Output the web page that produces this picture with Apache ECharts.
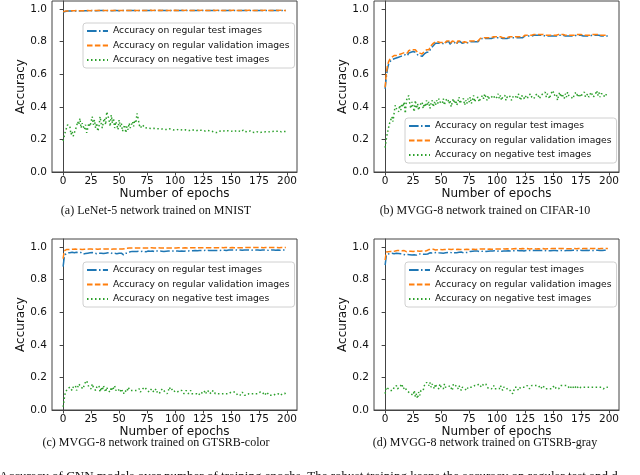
<!DOCTYPE html>
<html>
<head>
<meta charset="utf-8">
<script src="https://cdn.jsdelivr.net/npm/echarts@6/dist/echarts.min.js"></script>
<style>
html, body { margin: 0; padding: 0; background: #fff; }
#chart { width: 640px; height: 475px; }
</style>
</head>
<body>
<div id="chart"></div>
<script>
// tick labels
var xTicks = [0, 25, 50, 75, 100, 125, 150, 175, 200];
var yTicks = [0, 0.2, 0.4, 0.6, 0.8, 1.0];
var seriesNames = ['Accuracy on regular test images', 'Accuracy on regular validation images', 'Accuracy on negative test images'];
var captions = ['(a) LeNet-5 network trained on MNIST', '(b) MVGG-8 network trained on CIFAR-10',
    '(c) MVGG-8 network trained on GTSRB-color', '(d) MVGG-8 network trained on GTSRB-gray'];

// (a) LeNet-5 / MNIST
var aTest = [
0.980,0.984,0.986,0.987,0.988, 0.987,0.989,0.988,0.989,0.988, 0.989,0.990,0.989,0.990,0.989, 0.990,0.990,0.989,0.990,0.991, 0.990,0.989,0.990,0.991,0.990,
0.990,0.991,0.990,0.990,0.991, 0.990,0.991,0.991,0.990,0.991, 0.990,0.991,0.991,0.990,0.991, 0.991,0.990,0.991,0.991,0.990, 0.991,0.991,0.990,0.991,0.991,
0.990,0.991,0.991,0.990,0.991, 0.991,0.991,0.990,0.991,0.991, 0.991,0.990,0.991,0.991,0.991, 0.991,0.990,0.991,0.991,0.991, 0.992,0.991,0.991,0.991,0.991,
0.991,0.992,0.991,0.991,0.991, 0.992,0.991,0.991,0.992,0.991, 0.991,0.991,0.992,0.991,0.991, 0.992,0.991,0.991,0.991,0.992, 0.991,0.991,0.992,0.991,0.991,
0.991,0.992,0.991,0.991,0.992, 0.991,0.991,0.992,0.991,0.991, 0.991,0.992,0.991,0.991,0.992, 0.991,0.991,0.992,0.991,0.991, 0.991,0.992,0.991,0.991,0.992,
0.991,0.991,0.992,0.991,0.991, 0.991,0.992,0.991,0.991,0.992, 0.991,0.991,0.991,0.992,0.991, 0.991,0.992,0.991,0.991,0.991, 0.992,0.991,0.991,0.992,0.991,
0.991,0.991,0.992,0.991,0.991, 0.992,0.991,0.991,0.991,0.992, 0.991,0.991,0.992,0.991,0.991, 0.991,0.992,0.991,0.991,0.992, 0.991,0.991,0.991,0.992,0.991,
0.991,0.992,0.991,0.991,0.991, 0.992,0.991,0.991,0.992,0.991, 0.991,0.991,0.992,0.991,0.991, 0.992,0.991,0.991,0.991,0.992, 0.991,0.991,0.992,0.991,0.991
];
var aVal = [
0.984,0.987,0.988,0.989,0.989, 0.990,0.989,0.990,0.990,0.989, 0.990,0.990,0.991,0.990,0.990, 0.991,0.990,0.991,0.990,0.991, 0.991,0.990,0.991,0.991,0.990,
0.991,0.991,0.992,0.991,0.991, 0.991,0.992,0.991,0.991,0.992, 0.991,0.991,0.992,0.991,0.992, 0.991,0.991,0.992,0.992,0.991, 0.992,0.991,0.992,0.991,0.992,
0.992,0.991,0.992,0.992,0.991, 0.992,0.992,0.991,0.992,0.992, 0.992,0.991,0.992,0.992,0.992, 0.991,0.992,0.992,0.992,0.992, 0.992,0.992,0.991,0.992,0.992,
0.992,0.992,0.992,0.993,0.992, 0.992,0.992,0.993,0.992,0.992, 0.992,0.993,0.992,0.992,0.992, 0.993,0.992,0.992,0.993,0.992, 0.992,0.992,0.993,0.992,0.992,
0.993,0.992,0.992,0.993,0.992, 0.992,0.993,0.992,0.992,0.992, 0.993,0.992,0.992,0.993,0.992, 0.992,0.992,0.993,0.992,0.992, 0.993,0.992,0.992,0.992,0.993,
0.992,0.992,0.993,0.992,0.992, 0.992,0.993,0.992,0.992,0.993, 0.992,0.992,0.992,0.993,0.992, 0.992,0.993,0.992,0.992,0.992, 0.993,0.992,0.992,0.993,0.992,
0.992,0.992,0.993,0.992,0.992, 0.993,0.992,0.992,0.992,0.993, 0.992,0.992,0.993,0.992,0.992, 0.992,0.993,0.992,0.992,0.993, 0.992,0.992,0.992,0.993,0.992,
0.992,0.993,0.992,0.992,0.992, 0.993,0.992,0.992,0.993,0.992, 0.992,0.992,0.993,0.992,0.992, 0.993,0.992,0.992,0.992,0.993, 0.992,0.992,0.993,0.992,0.992
];
var aNeg = [
0.19,0.22,0.25,0.27,0.29, 0.29,0.28,0.23,0.25,0.22, 0.24,0.26,0.28,0.31,0.29, 0.33,0.27,0.30,0.28,0.26, 0.29,0.24,0.27,0.30,0.28,
0.31,0.34,0.29,0.32,0.27, 0.30,0.25,0.28,0.34,0.30, 0.27,0.31,0.33,0.29,0.37, 0.38,0.32,0.28,0.35,0.30, 0.33,0.27,0.31,0.29,0.26,
0.32,0.28,0.30,0.25,0.27, 0.29,0.24,0.28,0.26,0.30, 0.27,0.29,0.31,0.28,0.32, 0.30,0.36,0.33,0.29,0.27, 0.28,0.29,0.28,0.27,0.275,
0.272,0.270,0.268,0.270,0.267, 0.266,0.268,0.265,0.266,0.264, 0.266,0.263,0.265,0.262,0.264, 0.266,0.261,0.263,0.260,0.262, 0.265,0.259,0.262,0.260,0.258,
0.261,0.257,0.260,0.262,0.256, 0.259,0.261,0.257,0.255,0.259, 0.262,0.256,0.258,0.255,0.257, 0.260,0.254,0.256,0.258,0.253, 0.256,0.258,0.254,0.256,0.253,
0.255,0.257,0.252,0.254,0.256, 0.251,0.253,0.255,0.250,0.246, 0.244,0.248,0.242,0.246,0.250, 0.256,0.252,0.254,0.250,0.253, 0.256,0.251,0.253,0.249,0.252,
0.254,0.250,0.252,0.248,0.251, 0.255,0.249,0.252,0.250,0.247, 0.253,0.258,0.250,0.248,0.251, 0.246,0.249,0.252,0.247,0.244, 0.249,0.243,0.246,0.248,0.245,
0.242,0.247,0.244,0.248,0.245, 0.243,0.247,0.244,0.246,0.252, 0.248,0.245,0.249,0.246,0.251, 0.255,0.250,0.247,0.252,0.249, 0.246,0.251,0.248,0.250,0.249
];

// (b) MVGG-8 / CIFAR-10
var bTest = [
0.51,0.58,0.63,0.66,0.675, 0.685,0.69,0.70,0.695,0.705, 0.70,0.71,0.705,0.715,0.71, 0.72,0.715,0.705,0.72,0.725, 0.715,0.73,0.72,0.735,0.725,
0.74,0.73,0.735,0.725,0.72, 0.71,0.715,0.705,0.71,0.72, 0.725,0.73,0.735,0.74,0.735, 0.745,0.76,0.77,0.775,0.785, 0.79,0.785,0.79,0.795,0.79,
0.795,0.79,0.795,0.785,0.795, 0.80,0.79,0.80,0.785,0.795, 0.80,0.79,0.795,0.80,0.785, 0.80,0.795,0.80,0.805,0.79, 0.80,0.795,0.80,0.79,0.795,
0.80,0.795,0.80,0.79,0.80, 0.795,0.80,0.805,0.80,0.81, 0.815,0.82,0.82,0.825,0.82, 0.825,0.82,0.825,0.82,0.825, 0.82,0.815,0.825,0.82,0.825,
0.82,0.825,0.82,0.825,0.815, 0.82,0.825,0.82,0.825,0.82, 0.815,0.825,0.82,0.825,0.82, 0.825,0.82,0.825,0.82,0.825, 0.82,0.825,0.83,0.825,0.83,
0.835,0.84,0.835,0.84,0.835, 0.84,0.835,0.835,0.84,0.835, 0.84,0.835,0.84,0.835,0.84, 0.835,0.84,0.835,0.835,0.84, 0.835,0.84,0.835,0.84,0.835,
0.84,0.835,0.84,0.835,0.835, 0.84,0.835,0.84,0.835,0.84, 0.835,0.835,0.84,0.835,0.84, 0.835,0.84,0.835,0.84,0.835, 0.835,0.84,0.835,0.84,0.835,
0.84,0.835,0.835,0.84,0.835, 0.84,0.835,0.84,0.835,0.835, 0.84,0.835,0.84,0.835,0.84, 0.835,0.84,0.835,0.835,0.84, 0.835,0.84,0.835,0.84,0.835
];
var bVal = [
0.52,0.60,0.65,0.675,0.69, 0.70,0.705,0.71,0.715,0.72, 0.715,0.725,0.72,0.73,0.725, 0.735,0.73,0.72,0.735,0.74, 0.73,0.745,0.735,0.75,0.74,
0.75,0.745,0.75,0.74,0.735, 0.725,0.73,0.72,0.725,0.735, 0.74,0.745,0.75,0.755,0.75, 0.76,0.775,0.785,0.79,0.795, 0.80,0.795,0.80,0.80,0.795,
0.80,0.795,0.80,0.79,0.80, 0.805,0.795,0.805,0.79,0.80, 0.805,0.795,0.80,0.805,0.79, 0.805,0.80,0.805,0.81,0.795, 0.805,0.80,0.805,0.795,0.80,
0.805,0.80,0.805,0.795,0.805, 0.80,0.805,0.81,0.805,0.815, 0.82,0.825,0.825,0.83,0.825, 0.83,0.825,0.83,0.825,0.83, 0.825,0.82,0.83,0.825,0.83,
0.825,0.83,0.825,0.83,0.82, 0.825,0.83,0.825,0.83,0.825, 0.82,0.83,0.825,0.83,0.825, 0.83,0.825,0.83,0.825,0.83, 0.825,0.83,0.835,0.83,0.835,
0.84,0.845,0.84,0.845,0.84, 0.845,0.84,0.84,0.845,0.84, 0.845,0.84,0.845,0.84,0.845, 0.84,0.845,0.84,0.84,0.845, 0.84,0.845,0.84,0.845,0.84,
0.845,0.84,0.845,0.84,0.84, 0.845,0.84,0.845,0.84,0.845, 0.84,0.84,0.845,0.84,0.845, 0.84,0.845,0.84,0.845,0.84, 0.84,0.845,0.84,0.845,0.84,
0.845,0.84,0.84,0.845,0.84, 0.845,0.84,0.845,0.84,0.84, 0.845,0.84,0.845,0.84,0.845, 0.84,0.845,0.84,0.84,0.845, 0.84,0.845,0.84,0.845,0.84
];
var bNeg = [
0.15,0.20,0.24,0.27,0.30, 0.32,0.34,0.31,0.36,0.41, 0.39,0.40,0.37,0.41,0.38, 0.42,0.40,0.43,0.36,0.44, 0.45,0.47,0.42,0.39,0.43,
0.40,0.37,0.44,0.39,0.42, 0.38,0.41,0.40,0.43,0.39, 0.42,0.40,0.44,0.41,0.43, 0.39,0.42,0.44,0.40,0.43, 0.41,0.44,0.42,0.45,0.43,
0.44,0.42,0.45,0.41,0.44, 0.43,0.45,0.42,0.44,0.40, 0.43,0.45,0.42,0.44,0.41, 0.43,0.46,0.42,0.44,0.43, 0.45,0.41,0.44,0.42,0.45,
0.43,0.46,0.42,0.44,0.47, 0.43,0.45,0.44,0.46,0.43, 0.45,0.44,0.47,0.45,0.48, 0.46,0.44,0.47,0.45,0.44, 0.46,0.45,0.47,0.45,0.44,
0.46,0.48,0.45,0.47,0.44, 0.46,0.45,0.47,0.44,0.46, 0.45,0.47,0.46,0.44,0.46, 0.45,0.47,0.46,0.45,0.48, 0.46,0.44,0.47,0.46,0.45,
0.47,0.46,0.45,0.47,0.46, 0.48,0.46,0.47,0.45,0.47, 0.46,0.48,0.47,0.45,0.47, 0.46,0.48,0.47,0.49,0.46, 0.48,0.47,0.45,0.48,0.49,
0.50,0.47,0.46,0.48,0.44, 0.47,0.49,0.46,0.48,0.47, 0.45,0.48,0.46,0.49,0.47, 0.48,0.46,0.47,0.45,0.48, 0.47,0.49,0.46,0.48,0.47,
0.46,0.48,0.47,0.49,0.46, 0.47,0.48,0.46,0.47,0.49, 0.48,0.46,0.47,0.48,0.50, 0.47,0.49,0.46,0.48,0.47, 0.48,0.46,0.47,0.48,0.47
];

// (c) MVGG-8 / GTSRB-color
var cTest = [
0.88,0.94,0.955,0.962,0.965, 0.960,0.966,0.962,0.968,0.961, 0.965,0.963,0.968,0.960,0.966, 0.962,0.967,0.963,0.958,0.965, 0.961,0.966,0.963,0.960,0.965,
0.962,0.967,0.961,0.964,0.966, 0.960,0.965,0.963,0.967,0.962, 0.965,0.961,0.966,0.963,0.960, 0.965,0.962,0.967,0.963,0.961, 0.965,0.962,0.966,0.960,0.964,
0.962,0.958,0.963,0.955,0.952, 0.958,0.962,0.966,0.963,0.968, 0.972,0.970,0.974,0.971,0.973, 0.970,0.974,0.972,0.975,0.971, 0.974,0.972,0.975,0.973,0.971,
0.974,0.976,0.972,0.975,0.973, 0.976,0.974,0.972,0.975,0.977, 0.974,0.976,0.973,0.975,0.977, 0.974,0.976,0.975,0.973,0.976, 0.975,0.977,0.974,0.976,0.975,
0.977,0.975,0.976,0.978,0.975, 0.977,0.976,0.978,0.975,0.977, 0.976,0.978,0.977,0.975,0.978, 0.976,0.978,0.977,0.979,0.976, 0.978,0.977,0.979,0.978,0.980,
0.978,0.980,0.979,0.981,0.979, 0.980,0.982,0.979,0.981,0.980, 0.982,0.980,0.981,0.979,0.982, 0.980,0.981,0.982,0.980,0.981, 0.982,0.980,0.981,0.983,0.981,
0.982,0.980,0.982,0.981,0.983, 0.981,0.982,0.980,0.982,0.983, 0.981,0.982,0.983,0.981,0.982, 0.980,0.982,0.983,0.981,0.982, 0.983,0.981,0.982,0.980,0.982,
0.983,0.981,0.982,0.983,0.981, 0.982,0.983,0.981,0.982,0.980, 0.982,0.983,0.981,0.982,0.983, 0.981,0.982,0.983,0.982,0.981, 0.983,0.982,0.981,0.983,0.982
];
var cVal = [
0.93,0.978,0.983,0.985,0.986, 0.985,0.987,0.986,0.988,0.987, 0.986,0.988,0.987,0.986,0.988, 0.987,0.988,0.986,0.988,0.987, 0.988,0.987,0.989,0.988,0.987,
0.988,0.989,0.987,0.988,0.989, 0.988,0.987,0.989,0.988,0.989, 0.988,0.987,0.989,0.988,0.989, 0.988,0.989,0.988,0.987,0.989, 0.988,0.989,0.988,0.989,0.988,
0.989,0.988,0.987,0.988,0.989, 0.990,0.991,0.993,0.994,0.994, 0.995,0.994,0.995,0.994,0.995, 0.995,0.994,0.995,0.995,0.994, 0.995,0.995,0.994,0.995,0.995,
0.995,0.994,0.995,0.995,0.996, 0.995,0.995,0.996,0.995,0.995, 0.996,0.995,0.995,0.996,0.995, 0.996,0.995,0.996,0.995,0.996, 0.995,0.996,0.995,0.996,0.995,
0.996,0.995,0.996,0.996,0.995, 0.996,0.996,0.995,0.996,0.996, 0.996,0.995,0.996,0.996,0.996, 0.997,0.996,0.996,0.997,0.996, 0.996,0.997,0.996,0.997,0.997,
0.997,0.996,0.997,0.997,0.996, 0.997,0.997,0.997,0.996,0.997, 0.997,0.997,0.996,0.997,0.997, 0.997,0.998,0.997,0.997,0.997, 0.998,0.997,0.997,0.998,0.997,
0.997,0.998,0.997,0.997,0.998, 0.997,0.998,0.997,0.998,0.997, 0.998,0.997,0.998,0.998,0.997, 0.998,0.997,0.998,0.998,0.997, 0.998,0.998,0.997,0.998,0.998,
0.998,0.997,0.998,0.998,0.997, 0.998,0.998,0.998,0.997,0.998, 0.998,0.997,0.998,0.998,0.998, 0.997,0.998,0.998,0.997,0.998, 0.998,0.998,0.997,0.998,0.998
];
var cNeg = [
0.02,0.07,0.11,0.12,0.13, 0.12,0.14,0.13,0.12,0.14, 0.13,0.15,0.12,0.14,0.16, 0.17,0.14,0.15,0.13,0.16, 0.15,0.18,0.16,0.14,0.15,
0.13,0.16,0.14,0.15,0.12, 0.14,0.13,0.15,0.11,0.14, 0.12,0.15,0.13,0.11,0.14, 0.12,0.13,0.11,0.14,0.12, 0.13,0.15,0.12,0.11,0.13,
0.12,0.11,0.13,0.12,0.10, 0.12,0.13,0.11,0.14,0.13, 0.12,0.11,0.12,0.13,0.12, 0.11,0.12,0.12,0.13,0.11, 0.12,0.13,0.12,0.14,0.13,
0.12,0.13,0.11,0.12,0.13, 0.12,0.11,0.12,0.13,0.11, 0.12,0.10,0.12,0.11,0.13, 0.12,0.11,0.12,0.10,0.12, 0.14,0.12,0.11,0.13,0.12,
0.11,0.12,0.11,0.10,0.12, 0.11,0.12,0.11,0.10,0.11, 0.12,0.11,0.10,0.11,0.12, 0.10,0.11,0.10,0.11,0.10, 0.11,0.09,0.10,0.11,0.10,
0.10,0.11,0.12,0.10,0.11, 0.12,0.11,0.10,0.11,0.12, 0.11,0.10,0.11,0.10,0.11, 0.10,0.09,0.10,0.11,0.10, 0.11,0.10,0.11,0.10,0.11,
0.11,0.10,0.11,0.10,0.11, 0.10,0.09,0.10,0.09,0.10, 0.11,0.10,0.09,0.10,0.09, 0.08,0.10,0.09,0.10,0.11, 0.10,0.09,0.10,0.11,0.10,
0.10,0.11,0.10,0.11,0.10, 0.09,0.10,0.11,0.10,0.09, 0.10,0.09,0.10,0.09,0.10, 0.10,0.09,0.10,0.10,0.09, 0.10,0.10,0.11,0.10,0.11
];

// (d) MVGG-8 / GTSRB-gray
var dTest = [
0.89,0.945,0.958,0.955,0.960, 0.957,0.962,0.955,0.960,0.958, 0.963,0.957,0.961,0.955,0.959, 0.962,0.956,0.960,0.953,0.958, 0.955,0.950,0.954,0.958,0.952,
0.956,0.953,0.958,0.951,0.955, 0.959,0.954,0.957,0.960,0.956, 0.961,0.957,0.963,0.958,0.962, 0.965,0.960,0.964,0.961,0.966, 0.963,0.967,0.962,0.965,0.968,
0.964,0.967,0.963,0.968,0.965, 0.962,0.967,0.964,0.969,0.966, 0.963,0.968,0.965,0.969,0.966, 0.964,0.968,0.966,0.970,0.967, 0.965,0.969,0.967,0.963,0.968,
0.971,0.974,0.972,0.975,0.973, 0.976,0.974,0.977,0.975,0.973, 0.976,0.974,0.977,0.975,0.976, 0.974,0.977,0.975,0.978,0.976, 0.974,0.977,0.975,0.978,0.976,
0.975,0.977,0.976,0.978,0.975, 0.977,0.976,0.978,0.977,0.975, 0.978,0.976,0.977,0.975,0.978, 0.976,0.978,0.977,0.979,0.976, 0.978,0.977,0.979,0.978,0.976,
0.978,0.979,0.977,0.979,0.978, 0.980,0.978,0.979,0.977,0.979, 0.978,0.980,0.978,0.979,0.977, 0.979,0.978,0.980,0.979,0.978, 0.980,0.978,0.979,0.978,0.980,
0.979,0.978,0.980,0.979,0.978, 0.980,0.979,0.978,0.980,0.979, 0.978,0.980,0.979,0.981,0.979, 0.978,0.980,0.979,0.981,0.979, 0.980,0.978,0.980,0.979,0.981,
0.979,0.980,0.978,0.980,0.979, 0.981,0.979,0.980,0.979,0.981, 0.980,0.979,0.981,0.980,0.979, 0.981,0.980,0.979,0.981,0.980, 0.979,0.981,0.980,0.981,0.980
];
var dVal = [
0.92,0.970,0.975,0.972,0.978, 0.974,0.979,0.975,0.980,0.976, 0.974,0.979,0.976,0.980,0.975, 0.978,0.974,0.979,0.976,0.972, 0.977,0.974,0.979,0.975,0.978,
0.973,0.977,0.975,0.979,0.976, 0.978,0.975,0.980,0.977,0.979, 0.976,0.980,0.978,0.982,0.985, 0.983,0.986,0.984,0.987,0.985, 0.983,0.986,0.984,0.987,0.985,
0.986,0.984,0.987,0.985,0.983, 0.986,0.984,0.987,0.985,0.986, 0.984,0.987,0.985,0.986,0.984, 0.987,0.985,0.986,0.988,0.985, 0.987,0.986,0.984,0.987,0.988,
0.986,0.988,0.987,0.989,0.987, 0.988,0.986,0.989,0.987,0.988, 0.989,0.987,0.988,0.986,0.989, 0.988,0.987,0.989,0.988,0.990, 0.987,0.989,0.988,0.990,0.988,
0.989,0.988,0.990,0.988,0.989, 0.990,0.988,0.989,0.987,0.990, 0.989,0.988,0.990,0.989,0.988, 0.990,0.989,0.991,0.989,0.990, 0.988,0.990,0.989,0.991,0.989,
0.990,0.989,0.991,0.990,0.989, 0.991,0.990,0.989,0.991,0.990, 0.989,0.991,0.990,0.991,0.989, 0.990,0.991,0.990,0.989,0.991, 0.990,0.991,0.990,0.989,0.991,
0.990,0.991,0.989,0.991,0.990, 0.991,0.990,0.992,0.990,0.991, 0.990,0.991,0.992,0.990,0.991, 0.990,0.992,0.991,0.990,0.991, 0.992,0.990,0.991,0.992,0.991,
0.990,0.992,0.991,0.990,0.992, 0.991,0.992,0.990,0.991,0.992, 0.991,0.990,0.992,0.991,0.992, 0.991,0.990,0.992,0.991,0.992, 0.991,0.992,0.991,0.990,0.992
];
var dNeg = [
0.10,0.14,0.15,0.13,0.14, 0.12,0.13,0.12,0.14,0.13, 0.15,0.13,0.12,0.14,0.13, 0.16,0.13,0.12,0.14,0.12, 0.13,0.11,0.12,0.10,0.11,
0.09,0.12,0.08,0.10,0.07, 0.11,0.09,0.12,0.13,0.12, 0.15,0.14,0.17,0.18,0.15, 0.17,0.14,0.16,0.15,0.13, 0.16,0.14,0.15,0.13,0.16,
0.14,0.15,0.13,0.16,0.14, 0.15,0.14,0.13,0.15,0.14, 0.12,0.16,0.17,0.15,0.14, 0.13,0.15,0.14,0.12,0.14, 0.15,0.13,0.14,0.12,0.14,
0.13,0.14,0.15,0.14,0.13, 0.15,0.14,0.15,0.14,0.16, 0.15,0.14,0.15,0.16,0.15, 0.16,0.14,0.15,0.13,0.14, 0.13,0.14,0.15,0.13,0.14,
0.13,0.14,0.13,0.15,0.14, 0.12,0.14,0.13,0.14,0.13, 0.12,0.13,0.12,0.11,0.10, 0.12,0.14,0.13,0.14,0.12, 0.13,0.14,0.13,0.14,0.15,
0.14,0.13,0.15,0.14,0.13, 0.14,0.15,0.14,0.15,0.16, 0.15,0.14,0.15,0.14,0.13, 0.14,0.15,0.14,0.13,0.14, 0.13,0.14,0.13,0.14,0.13,
0.14,0.15,0.14,0.13,0.14, 0.13,0.14,0.15,0.16,0.15, 0.14,0.15,0.14,0.15,0.14, 0.13,0.14,0.15,0.14,0.13, 0.14,0.15,0.14,0.13,0.14,
0.14,0.13,0.14,0.15,0.14, 0.13,0.14,0.13,0.14,0.13, 0.14,0.15,0.14,0.13,0.14, 0.13,0.14,0.13,0.14,0.14, 0.13,0.14,0.14,0.13,0.14
];

var panelData = [[aTest, aVal, aNeg], [bTest, bVal, bNeg], [cTest, cVal, cNeg], [dTest, dVal, dNeg]];

// layout (pixels)
var grids = [
    {left: 52, top: 1, width: 245, height: 171},
    {left: 374, top: 1, width: 245, height: 171},
    {left: 52, top: 239, width: 245, height: 171},
    {left: 374, top: 239, width: 245, height: 171}
];
var legendPos = [[83, 23], [405, 118], [83, 262], [405, 262]];
var captionPos = [[156, 211], [485, 211], [156, 443], [485, 443]];

var colors = ['#1f77b4', '#ff7f0e', '#2ca02c'];
var dashes = [[9.6, 2.4, 1.5, 2.4], [5.5, 2.4], [1.5, 2.5]];
var font = 'DejaVu Sans';

var chart = echarts.init(document.getElementById('chart'), null, {renderer: 'canvas'});

var option = {
    animation: false,
    backgroundColor: '#fff',
    textStyle: {fontFamily: font},
    grid: [],
    xAxis: [],
    yAxis: [],
    legend: [],
    series: [],
    graphic: []
};

for (var p = 0; p < 4; p++) {
    var g = grids[p];
    option.grid.push({
        left: g.left, top: g.top, width: g.width, height: g.height,
        show: true, borderColor: '#444', borderWidth: 1, backgroundColor: 'transparent',
        outerBoundsMode: 'none', containLabel: false
    });
    option.xAxis.push({
        type: 'value', gridIndex: p, min: -9.95, max: 208.95,
        name: 'Number of epochs', nameLocation: 'middle', nameGap: 14,
        nameTextStyle: {fontSize: 12, color: '#111', fontFamily: font},
        axisLine: {show: true, onZero: false, lineStyle: {color: '#444', width: 1}},
        axisTick: {show: true, length: 3.5, customValues: xTicks, lineStyle: {color: '#444'}},
        axisLabel: {customValues: xTicks, fontSize: 10.5, color: '#111', margin: 4, fontFamily: font},
        splitLine: {show: false}
    });
    option.yAxis.push({
        type: 'value', gridIndex: p, min: 0, max: 1.05,
        name: 'Accuracy', nameLocation: 'middle', nameGap: 25,
        nameTextStyle: {fontSize: 12, color: '#111', fontFamily: font},
        axisLine: {show: true, lineStyle: {color: '#444', width: 1}},
        axisTick: {show: true, length: 3.5, customValues: yTicks, lineStyle: {color: '#444'}},
        axisLabel: {
            customValues: yTicks, fontSize: 10.5, color: '#111', margin: 5, fontFamily: font,
            formatter: function (v) { return Number(v).toFixed(1); }
        },
        splitLine: {show: false}
    });
    option.legend.push({
        orient: 'vertical', left: legendPos[p][0], top: legendPos[p][1],
        padding: [3, 5, 3, 3], itemWidth: 21, itemHeight: 10, itemGap: 4.5,
        backgroundColor: 'rgba(255,255,255,0.85)', borderColor: '#d0d0d0', borderWidth: 1, borderRadius: 3,
        textStyle: {fontSize: 9.2, color: '#111', fontFamily: font, lineHeight: 10},
        itemStyle: {opacity: 0},   // no marker, only the line sample
        selectedMode: false,
        data: seriesNames
    });
    for (var s = 0; s < 3; s++) {
        var vals = panelData[p][s];
        option.series.push({
            name: seriesNames[s], type: 'line', xAxisIndex: p, yAxisIndex: p,
            data: vals.map(function (v, i) { return [i, v]; }),
            symbol: 'none', showSymbol: false, silent: true,
            color: colors[s],
            lineStyle: {width: 1.5, color: colors[s], type: dashes[s]},
            z: 2 + s
        });
    }
    option.graphic.push({
        type: 'text', silent: true,
        style: {
            text: captions[p], x: captionPos[p][0], y: captionPos[p][1],
            textAlign: 'center', textVerticalAlign: 'middle',
            font: '12px "Liberation Serif"', fill: '#111'
        }
    });
}

// figure caption, cut off by the crop
option.graphic.push({
    type: 'text', silent: true,
    style: {
        text: 'Accuracy of CNN models over number of training epochs. The robust training keeps the accuracy on regular test and d',
        x: -1, y: 470, textAlign: 'left', textVerticalAlign: 'top',
        font: '13px "Liberation Serif"', fill: '#111'
    }
});

chart.setOption(option);
</script>
</body>
</html>
